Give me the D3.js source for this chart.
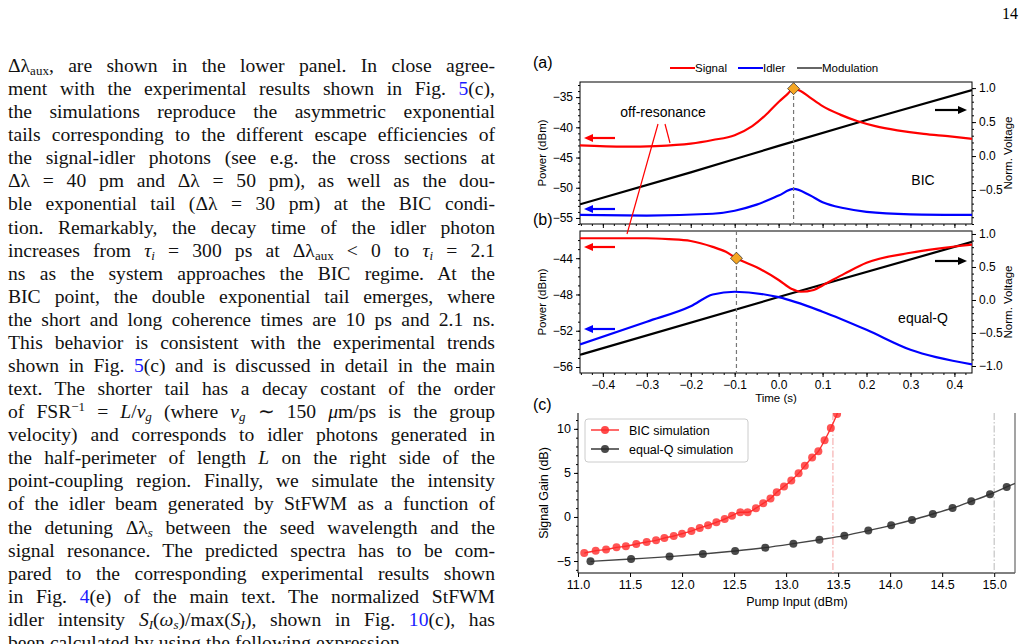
<!DOCTYPE html>
<html><head><meta charset="utf-8">
<script src="https://cdn.jsdelivr.net/npm/d3@7"></script>
<style>
body{margin:0;width:1028px;height:644px;overflow:hidden;background:#fff;position:relative}
#txt{position:absolute;left:8px;top:54px;width:487px;font-family:"Liberation Serif",serif;font-size:19.6px;color:#111}
#txt div{height:23.08px;line-height:23.08px;text-align:justify;text-align-last:justify;white-space:nowrap;overflow:visible}
#txt div.last{text-align-last:left}
#txt span.wrap{display:block;white-space:normal}
.b{color:#1a1aff}
sub{font-size:13px;vertical-align:-3px;line-height:0}
sup{font-size:13px;vertical-align:7px;line-height:0}
svg{position:absolute;left:0;top:0}
svg text{font-family:"Liberation Sans",Arial,sans-serif}
</style></head><body>
<div id="txt"></div>
<svg id="fig" width="1028" height="644"></svg>
<script>
// Page text lines
var textLines = [
  "Δλ<sub>aux</sub>, are shown in the lower panel. In close agree-",
  "ment with the experimental results shown in Fig. <span class='b'>5</span>(c),",
  "the simulations reproduce the asymmetric exponential",
  "tails corresponding to the different escape efficiencies of",
  "the signal-idler photons (see e.g. the cross sections at",
  "Δλ = 40 pm and Δλ = 50 pm), as well as the dou-",
  "ble exponential tail (Δλ = 30 pm) at the BIC condi-",
  "tion. Remarkably, the decay time of the idler photon",
  "increases from <i>τ<sub>i</sub></i> = 300 ps at Δλ<sub>aux</sub> &lt; 0 to <i>τ<sub>i</sub></i> = 2.1",
  "ns as the system approaches the BIC regime. At the",
  "BIC point, the double exponential tail emerges, where",
  "the short and long coherence times are 10 ps and 2.1 ns.",
  "This behavior is consistent with the experimental trends",
  "shown in Fig. <span class='b'>5</span>(c) and is discussed in detail in the main",
  "text. The shorter tail has a decay costant of the order",
  "of FSR<sup>−1</sup> = <i>L</i>/<i>v<sub>g</sub></i> (where <i>v<sub>g</sub></i> ∼ 150 <i>μ</i>m/ps is the group",
  "velocity) and corresponds to idler photons generated in",
  "the half-perimeter of length <i>L</i> on the right side of the",
  "point-coupling region. Finally, we simulate the intensity",
  "of the idler beam generated by StFWM as a function of",
  "the detuning Δλ<sub><i>s</i></sub> between the seed wavelength and the",
  "signal resonance. The predicted spectra has to be com-",
  "pared to the corresponding experimental results shown",
  "in Fig. <span class='b'>4</span>(e) of the main text. The normalized StFWM",
  "idler intensity <i>S<sub>I</sub></i>(<i>ω<sub>s</sub></i>)/max(<i>S<sub>I</sub></i>), shown in Fig. <span class='b'>10</span>(c), has",
  "been calculated by using the following expression"
];

// Panel (a) BIC traces
var aTime   = [-0.452,-0.35,-0.28,-0.2,-0.15,-0.1,-0.06,-0.03,0.0,0.02,0.034,0.05,0.07,0.1,0.14,0.18,0.22,0.27,0.33,0.39,0.44];
var aSignal = [-43.0,-43.2,-43.1,-42.7,-42.1,-41.3,-39.8,-38.0,-35.8,-34.5,-33.6,-34.0,-35.0,-36.5,-37.9,-39.0,-39.8,-40.5,-41.1,-41.5,-41.9];
var aIdlerT = [-0.452,-0.3,-0.15,-0.1,-0.05,0.0,0.034,0.07,0.1,0.15,0.2,0.3,0.44];
var aIdler  = [-54.5,-54.6,-54.3,-53.8,-52.8,-51.3,-50.2,-51.2,-52.4,-53.4,-54.0,-54.4,-54.5];
var aModT   = [-0.452,-0.2,0.0,0.2,0.44];
var aMod    = [-0.71,-0.24,0.15,0.53,0.97];
var aMarkT = 0.034, aMarkP = -33.6;

// Panel (b) equal-Q traces
var bTime   = [-0.452,-0.3,-0.25,-0.2,-0.15,-0.12,-0.096,-0.05,0.0,0.03,0.05,0.08,0.1,0.15,0.2,0.3,0.44];
var bSignal = [-41.8,-41.8,-41.9,-42.1,-42.75,-43.3,-44.0,-45.0,-46.4,-47.4,-47.7,-47.5,-47.0,-45.7,-44.5,-43.4,-42.5];
var bIdlerT = [-0.452,-0.3,-0.2,-0.15,-0.1,0.0,0.1,0.2,0.3,0.44];
var bIdler  = [-53.5,-51.0,-49.3,-48.0,-47.7,-48.3,-49.9,-51.9,-54.1,-55.7];
var bModT   = [-0.452,0.0,0.44];
var bMod    = [-0.83,0.045,0.88];
var bMarkT = -0.096, bMarkP = -44.0;

// Panel (c) gain simulations
var bicPump = [11.06,11.17,11.27,11.37,11.46,11.56,11.66,11.75,11.83,11.92,12.0,12.09,12.17,12.25,12.33,12.41,12.48,12.56,12.63,12.71,12.78,12.85,12.91,12.98,13.05,13.12,13.18,13.25,13.31,13.37,13.43,13.49];
var bicGain = [-4.1,-3.83,-3.7,-3.45,-3.33,-3.07,-2.84,-2.65,-2.39,-2.16,-1.9,-1.6,-1.25,-0.95,-0.6,-0.23,0.15,0.53,0.53,1.0,1.55,2.1,2.8,3.45,4.15,4.95,5.8,6.75,7.45,8.7,10.1,11.7];
var eqPump = [11.12,11.51,11.88,12.2,12.51,12.8,13.07,13.32,13.56,13.79,14.01,14.21,14.41,14.6,14.78,14.96,15.12];
var eqGain = [-5.04,-4.77,-4.5,-4.2,-3.86,-3.48,-3.03,-2.58,-2.12,-1.55,-0.95,-0.34,0.34,1.02,1.78,2.58,3.41];
var eqLineEnd = [15.2, 3.8];
var bicThreshold = 13.45, eqThreshold = 15.0;

var txt = d3.select("#txt");
textLines.forEach(function (l, i) {
    txt.append("div").attr("class", i == textLines.length - 1 ? "last" : null)
        .append("span").attr("class", "wrap").html(l);
});

var svg = d3.select("#fig");
svg.append("text").attr("x", 1018).attr("y", 19).attr("text-anchor", "end")
    .style("font-family", "Liberation Serif,serif").style("font-size", "16px").text("14");

var fmt1 = d3.format(".1f");
var tickFont = "12px";

function zip(xs, ys) { return xs.map(function (x, i) { return [x, ys[i]]; }); }

function arrow(g, x1, x2, y, color) {
    var dir = x2 < x1 ? 1 : -1;
    g.append("line").attr("x1", x1).attr("x2", x2 + dir * 6).attr("y1", y).attr("y2", y)
        .attr("stroke", color).attr("stroke-width", 2.2);
    g.append("path").attr("d", "M" + x2 + "," + y + "L" + (x2 + dir * 9) + "," + (y - 4) + "L" + (x2 + dir * 9) + "," + (y + 4) + "Z")
        .attr("fill", color);
}

function timePanel(o) {
    var x = d3.scaleLinear().domain([-0.452, 0.44]).range([580, 972]);
    var yL = d3.scaleLinear().domain(o.yL).range([o.bottom, o.top]);
    var yR = d3.scaleLinear().domain(o.yR).range([o.bottom, o.top]);
    var g = svg.append("g");
    var clipId = "clip" + o.id;
    svg.append("clipPath").attr("id", clipId).append("rect")
        .attr("x", 580).attr("y", o.top).attr("width", 392).attr("height", o.bottom - o.top);

    g.append("g").attr("transform", "translate(0," + o.bottom + ")")
        .call(d3.axisBottom(x).tickValues(d3.range(-0.4, 0.41, 0.1)).tickFormat(o.xLabels ? fmt1 : "").tickSize(4));
    g.append("g").attr("transform", "translate(0," + o.bottom + ")")
        .call(d3.axisBottom(x).tickValues(d3.range(-0.45, 0.441, 0.025)).tickFormat("").tickSize(2));
    g.append("g").attr("transform", "translate(580,0)")
        .call(d3.axisLeft(yL).tickValues(o.lTicks).tickFormat(d3.format("d")).tickSize(4));
    g.append("g").attr("transform", "translate(580,0)")
        .call(d3.axisLeft(yL).tickValues(d3.range(Math.ceil(o.yL[0]), o.yL[1], 1)).tickFormat("").tickSize(2));
    g.append("g").attr("transform", "translate(972,0)")
        .call(d3.axisRight(yR).tickValues(o.rTicks).tickFormat(fmt1).tickSize(4));
    g.append("g").attr("transform", "translate(972,0)")
        .call(d3.axisRight(yR).tickValues(d3.range(-1, 1.01, 0.1)).tickFormat("").tickSize(2));
    g.selectAll(".domain").remove();
    g.selectAll(".tick text").style("font-size", tickFont).attr("fill", "#000");
    g.append("rect").attr("x", 580).attr("y", o.top).attr("width", 392).attr("height", o.bottom - o.top)
        .attr("fill", "none").attr("stroke", "#000").attr("stroke-width", 1);

    var plot = g.append("g").attr("clip-path", "url(#" + clipId + ")");
    var line = function (sc) {
        return d3.line().x(function (d) { return x(d[0]); }).y(function (d) { return sc(d[1]); }).curve(d3.curveMonotoneX);
    };
    plot.append("path").datum(zip(o.modT, o.mod)).attr("d", line(yR))
        .attr("fill", "none").attr("stroke", "#000").attr("stroke-width", 2.2);
    plot.append("path").datum(zip(o.idlerT, o.idler)).attr("d", line(yL))
        .attr("fill", "none").attr("stroke", "#0000ff").attr("stroke-width", 2.2);
    plot.append("path").datum(zip(o.time, o.signal)).attr("d", line(yL))
        .attr("fill", "none").attr("stroke", "#ff0000").attr("stroke-width", 2.2);
    plot.append("line").attr("x1", x(o.markT)).attr("x2", x(o.markT)).attr("y1", o.top).attr("y2", o.bottom)
        .attr("stroke", "#777").attr("stroke-width", 1.2).attr("stroke-dasharray", "4,3");
    var mx = x(o.markT), my = yL(o.markP);
    g.append("path").attr("d", "M" + mx + "," + (my - 6) + "L" + (mx + 6) + "," + my + "L" + mx + "," + (my + 6) + "L" + (mx - 6) + "," + my + "Z")
        .attr("fill", "#f5a623").attr("stroke", "#333").attr("stroke-width", 0.8);

    arrow(g, 615, 584, o.redArrow, "#ff0000");
    arrow(g, 615, 584, o.blueArrow, "#0000ff");
    arrow(g, 935, 967, o.blackArrow, "#000");

    var mid = (o.top + o.bottom) / 2;
    g.append("text").attr("transform", "translate(546," + mid + ") rotate(-90)").attr("text-anchor", "middle")
        .style("font-size", "11.5px").text("Power (dBm)");
    g.append("text").attr("transform", "translate(1012," + mid + ") rotate(-90)").attr("text-anchor", "middle")
        .style("font-size", "11.5px").text("Norm. Voltage");
    g.append("text").attr("x", 923).attr("y", o.tagY).attr("text-anchor", "middle").style("font-size", "14px").text(o.tag);
    g.append("text").attr("x", 533).attr("y", o.top - 14 + o.letterDy).style("font-size", "16px").text(o.letter);
    return g;
}

timePanel({id: "a", top: 82, bottom: 224, yL: [-56, -32.5], yR: [-1.0, 1.09],
    lTicks: [-55, -50, -45, -40, -35], rTicks: [-0.5, 0, 0.5, 1.0], xLabels: false,
    time: aTime, signal: aSignal, idlerT: aIdlerT, idler: aIdler, modT: aModT, mod: aMod,
    markT: aMarkT, markP: aMarkP, redArrow: 138, blueArrow: 209, blackArrow: 110,
    tag: "BIC", tagY: 185, letter: "(a)", letterDy: 0});

var gb = timePanel({id: "b", top: 231, bottom: 373, yL: [-56.66, -41.0], yR: [-1.106, 1.045],
    lTicks: [-56, -52, -48, -44], rTicks: [-1, -0.5, 0, 0.5, 1.0], xLabels: true,
    time: bTime, signal: bSignal, idlerT: bIdlerT, idler: bIdler, modT: bModT, mod: bMod,
    markT: bMarkT, markP: bMarkP, redArrow: 247, blueArrow: 329, blackArrow: 261,
    tag: "equal-Q", tagY: 323, letter: "(b)", letterDy: 8});
gb.append("text").attr("x", 776).attr("y", 402).attr("text-anchor", "middle").style("font-size", "11.5px").text("Time (s)");

// Legend for (a)/(b)
var leg = svg.append("g");
[["Signal", "#ff0000", 670], ["Idler", "#0000ff", 738], ["Modulation", "#333", 797]].forEach(function (l) {
    leg.append("line").attr("x1", l[2]).attr("x2", l[2] + 25).attr("y1", 68).attr("y2", 68)
        .attr("stroke", l[1]).attr("stroke-width", l[0] == "Modulation" ? 1.5 : 2);
    leg.append("text").attr("x", l[2] + 25).attr("y", 72).style("font-size", "11.5px").text(l[0]);
});

// off-resonance annotation
svg.append("text").attr("x", 663).attr("y", 117).attr("text-anchor", "middle").style("font-size", "14px").text("off-resonance");
svg.append("line").attr("x1", 658).attr("y1", 124).attr("x2", 627).attr("y2", 234).attr("stroke", "#ff0000").attr("stroke-width", 1.2);
svg.append("line").attr("x1", 665).attr("y1", 124).attr("x2", 670).attr("y2", 143).attr("stroke", "#ff0000").attr("stroke-width", 1.2);

// Panel (c)
var xc = d3.scaleLinear().domain([11, 15.2]).range([578, 1015]);
var yc = d3.scaleLinear().domain([-6.36, 11.8]).range([573, 413]);
var gc = svg.append("g");
svg.append("clipPath").attr("id", "clipc").append("rect").attr("x", 578).attr("y", 413).attr("width", 437).attr("height", 160);

gc.append("g").attr("transform", "translate(0,573)")
    .call(d3.axisBottom(xc).tickValues(d3.range(11, 15.01, 0.5)).tickFormat(fmt1).tickSize(4));
gc.append("g").attr("transform", "translate(578,0)")
    .call(d3.axisLeft(yc).tickValues([-5, 0, 5, 10]).tickFormat(d3.format("d")).tickSize(4));
gc.append("g").attr("transform", "translate(578,0)")
    .call(d3.axisLeft(yc).tickValues(d3.range(-6, 11.5, 1)).tickFormat("").tickSize(2));
gc.selectAll(".domain").remove();
gc.selectAll(".tick text").style("font-size", "12.5px");
gc.append("line").attr("x1", 578).attr("x2", 578).attr("y1", 413).attr("y2", 573).attr("stroke", "#000");
gc.append("line").attr("x1", 578).attr("x2", 1015).attr("y1", 573).attr("y2", 573).attr("stroke", "#000");
gc.append("line").attr("x1", 1015).attr("x2", 1015).attr("y1", 413).attr("y2", 573).attr("stroke", "#666").attr("stroke-width", 1.2);

var pc = gc.append("g").attr("clip-path", "url(#clipc)");
pc.append("line").attr("x1", xc(bicThreshold)).attr("x2", xc(bicThreshold)).attr("y1", 413).attr("y2", 573)
    .attr("stroke", "#f6b0b0").attr("stroke-width", 1.2).attr("stroke-dasharray", "7,2,1.5,2");
pc.append("line").attr("x1", xc(eqThreshold)).attr("x2", xc(eqThreshold)).attr("y1", 413).attr("y2", 573)
    .attr("stroke", "#c4c4c4").attr("stroke-width", 1.2).attr("stroke-dasharray", "7,2,1.5,2");
var lc = d3.line().x(function (d) { return xc(d[0]); }).y(function (d) { return yc(d[1]); }).curve(d3.curveMonotoneX);
var eqData = zip(eqPump, eqGain).concat([eqLineEnd]);
pc.append("path").datum(eqData).attr("d", lc).attr("fill", "none").attr("stroke", "#444").attr("stroke-width", 1.4);
pc.selectAll("circle.eq").data(zip(eqPump, eqGain)).enter().append("circle").attr("class", "eq")
    .attr("cx", function (d) { return xc(d[0]); }).attr("cy", function (d) { return yc(d[1]); })
    .attr("r", 4).attr("fill", "#2a2a2a").attr("fill-opacity", 0.85);
var bicData = zip(bicPump, bicGain).concat([[13.53, 13]]);
pc.append("path").datum(bicData).attr("d", lc).attr("fill", "none").attr("stroke", "#ff3030").attr("stroke-width", 1.4);
pc.selectAll("circle.bic").data(zip(bicPump, bicGain)).enter().append("circle").attr("class", "bic")
    .attr("cx", function (d) { return xc(d[0]); }).attr("cy", function (d) { return yc(d[1]); })
    .attr("r", 4).attr("fill", "#ff2a2a").attr("fill-opacity", 0.8);

gc.append("text").attr("transform", "translate(548,493) rotate(-90)").attr("text-anchor", "middle")
    .style("font-size", "12.5px").text("Signal Gain (dB)");
gc.append("text").attr("x", 797).attr("y", 606).attr("text-anchor", "middle").style("font-size", "12.5px").text("Pump Input (dBm)");
gc.append("text").attr("x", 533).attr("y", 410).style("font-size", "16px").text("(c)");

var lg = gc.append("g");
lg.append("rect").attr("x", 585).attr("y", 419).attr("width", 163).attr("height", 43).attr("rx", 3)
    .attr("fill", "#fff").attr("fill-opacity", 0.85).attr("stroke", "#ccc");
[["BIC simulation", "#ff2a2a", 430], ["equal-Q simulation", "#2a2a2a", 449]].forEach(function (l) {
    lg.append("line").attr("x1", 591).attr("x2", 619).attr("y1", l[2]).attr("y2", l[2]).attr("stroke", l[1]).attr("stroke-width", 1.4);
    lg.append("circle").attr("cx", 605).attr("cy", l[2]).attr("r", 4).attr("fill", l[1]).attr("fill-opacity", 0.85);
    lg.append("text").attr("x", 629).attr("y", l[2] + 4.5).style("font-size", "12.5px").text(l[0]);
});
</script>
</body></html>
